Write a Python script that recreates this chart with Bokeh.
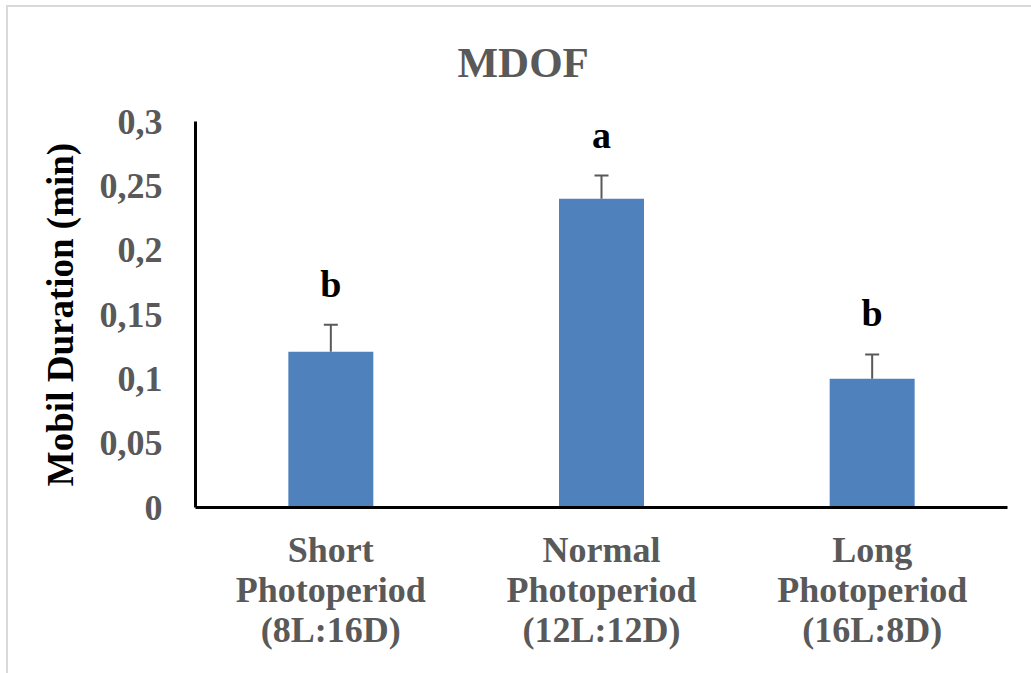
from bokeh.plotting import figure
from bokeh.models import (ColumnDataSource, Whisker, TeeHead,
                          FactorRange, Range1d, FixedTicker)
from bokeh.core.properties import value
from bokeh.embed import file_html
from bokeh.resources import INLINE

# Mean mobile duration per photoperiod treatment, with standard errors
categories = ["Short\nPhotoperiod\n(8L:16D)",
              "Normal\nPhotoperiod\n(12L:12D)",
              "Long\nPhotoperiod\n(16L:8D)"]
means = [0.121, 0.240, 0.100]
errors = [0.021, 0.018, 0.019]
letters = ["b", "a", "b"]

y_ticks = [0, 0.05, 0.1, 0.15, 0.2, 0.25, 0.3]
y_tick_labels = ["0", "0,05", "0,1", "0,15", "0,2", "0,25", "0,3"]

FONT = "Liberation Serif"
GREY = "#595959"

src = ColumnDataSource(dict(
    cat=categories,
    mean=means,
    upper=[m + e for m, e in zip(means, errors)],
    letter=letters,
))

p = figure(x_range=FactorRange(*categories), y_range=Range1d(0, 0.3),
           width=1031, height=673, output_backend="svg", toolbar_location=None,
           min_border_left=195, min_border_right=24,
           min_border_top=121, min_border_bottom=166)

# transparent border area over a white page with a light grey frame
# along the top and left edges
p.border_fill_color = None
p.background_fill_color = "white"
p.styles = {"background": (
    "linear-gradient(#d9d9d9, #d9d9d9) 7px 5px / 100% 2px no-repeat, "
    "linear-gradient(#d9d9d9, #d9d9d9) 6px 5px / 2px 100% no-repeat, "
    "#ffffff")}

p.outline_line_color = None
p.xgrid.grid_line_color = None
p.ygrid.grid_line_color = None

p.vbar(x="cat", top="mean", width=0.314, source=src,
       fill_color="#4F81BD", line_color=None)

p.add_layout(Whisker(source=src, base="cat", upper="upper", lower="mean",
                     line_color=GREY, line_width=2,
                     upper_head=TeeHead(size=14, line_color=GREY, line_width=2),
                     lower_head=None))

# significance letters above the error bars
p.text(x="cat", y="upper", text="letter", source=src,
       text_align="center", text_baseline="alphabetic", y_offset=-41,
       text_font=value(FONT), text_font_style="bold",
       text_font_size="38px", text_color="black")

# title
p.title.text = "MDOF"
p.title.text_font = FONT
p.title.text_font_style = "bold"
p.title.text_font_size = "43px"
p.title.text_color = GREY
p.title.align = "left"
p.title.vertical_align = "top"
p.title.offset = 262
p.title.standoff = 68

for ax in (p.xaxis[0], p.yaxis[0]):
    ax.axis_line_color = "black"
    ax.axis_line_width = 3
    ax.major_tick_line_color = None
    ax.minor_tick_line_color = None
    ax.major_label_text_font = FONT
    ax.major_label_text_font_style = "bold"
    ax.major_label_text_font_size = "36px"
    ax.major_label_text_color = GREY

p.yaxis.ticker = FixedTicker(ticks=y_ticks)
p.yaxis.major_label_overrides = dict(zip(y_ticks, y_tick_labels))
p.yaxis.major_label_standoff = 27
p.yaxis.axis_label = "Mobil Duration (min)"
p.yaxis.axis_label_text_font = FONT
p.yaxis.axis_label_text_font_style = "bold"
p.yaxis.axis_label_text_font_size = "37px"
p.yaxis.axis_label_text_color = "black"
p.yaxis.axis_label_standoff = 16

p.xaxis.major_label_standoff = 16
p.xaxis.major_label_text_line_height = 1.0
p.xaxis.major_label_orientation = "horizontal"

open("out.html", "w").write(file_html(p, INLINE))
